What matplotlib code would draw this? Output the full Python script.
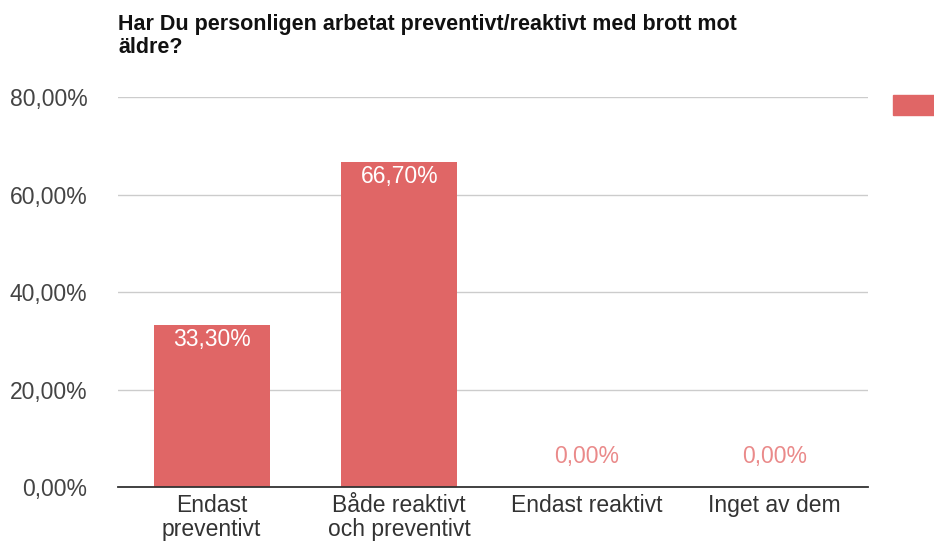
import matplotlib.pyplot as plt
from matplotlib.patches import Rectangle

plt.rcParams['font.family'] = ['Liberation Sans', 'DejaVu Sans']

# data
kategorier = ['Endast\npreventivt', 'Både reaktivt\noch preventivt',
              'Endast reaktivt', 'Inget av dem']
andel = [33.3, 66.7, 0.0, 0.0]
yticks = [0, 20, 40, 60, 80]
titel = 'Har Du personligen arbetat preventivt/reaktivt med brott mot\näldre?'

farg = '#e06666'

fig = plt.figure(figsize=(9.34, 5.46), dpi=100)
ax = fig.add_axes([0.1263, 0.108, 0.8030, 0.7143])

x = range(len(kategorier))
bars = ax.bar(x, andel, width=0.62, color=farg, zorder=2)

ax.set_ylim(0, 80)
ax.set_xlim(-0.5, len(kategorier) - 0.5)
ax.set_yticks(yticks)
ax.set_yticklabels([f'{v:.2f}%'.replace('.', ',') for v in yticks])
ax.set_xticks(list(x))
ax.set_xticklabels(kategorier, linespacing=1.05)
ax.tick_params(axis='y', length=0, pad=22, labelsize=16.5, labelcolor='#444444')
ax.tick_params(axis='x', length=0, pad=5, labelsize=16.5, labelcolor='#333333')
for lbl in ax.get_xticklabels():
    lbl.set_verticalalignment('top')

ax.grid(axis='y', color='#cccccc', linewidth=1, zorder=0)
for s in ['top', 'right', 'left']:
    ax.spines[s].set_visible(False)
ax.spines['bottom'].set_color('#333333')
ax.spines['bottom'].set_linewidth(1.3)
ax.spines['bottom'].set_zorder(3)

# value labels
for b, v in zip(bars, andel):
    txt = f'{v:.2f}%'.replace('.', ',')
    cx = b.get_x() + b.get_width() / 2
    if v > 5:
        ax.annotate(txt, (cx, v), xytext=(0, -10.5), textcoords='offset points',
                    ha='center', va='center', color='white', fontsize=16.5)
    else:
        ax.annotate(txt, (cx, v), xytext=(0, 22), textcoords='offset points',
                    ha='center', va='center', color='#ea8a8a', fontsize=16.5)

fig.text(118 / 934, 1 - 14 / 546, titel, ha='left', va='top',
         fontsize=15.5, fontweight='bold', color='#111111', linespacing=1.15)

# legend swatch (cut at the right edge)
fig.patches.append(Rectangle((893 / 934, 1 - 115 / 546), 45 / 934, 20 / 546,
                             transform=fig.transFigure, color=farg))

fig.savefig('out.png', dpi=100)
